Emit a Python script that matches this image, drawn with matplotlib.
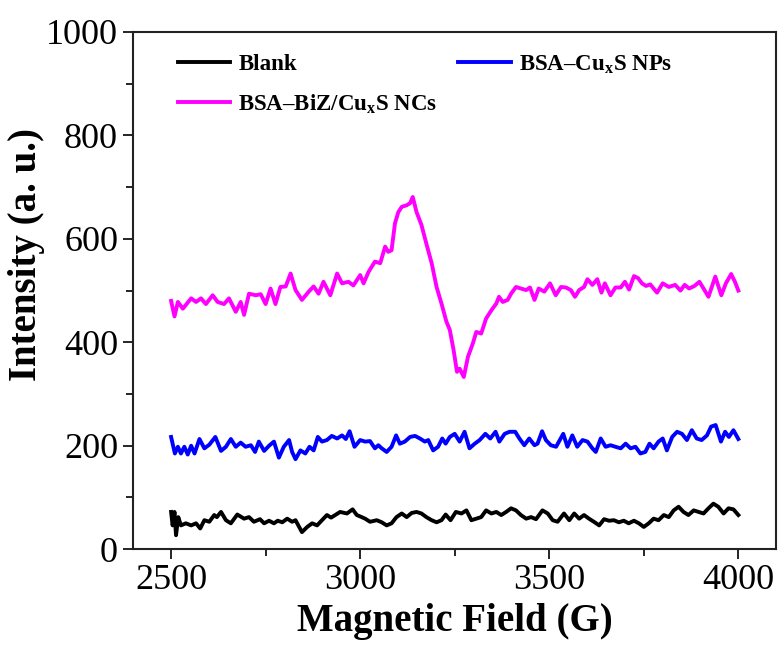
import matplotlib
matplotlib.use("Agg")
import matplotlib.pyplot as plt
from matplotlib.ticker import MultipleLocator

plt.rcParams['font.family'] = ['Liberation Serif', 'DejaVu Serif']
plt.rcParams['mathtext.fontset'] = 'custom'
plt.rcParams['mathtext.rm'] = 'Liberation Serif'
plt.rcParams['mathtext.bf'] = 'Liberation Serif:bold'

# Magnetic field (G) / intensity (a. u.)
field_ncs = [2500, 2509, 2518, 2531, 2553, 2566, 2579, 2592, 2610, 2623, 2640, 2653,
             2671, 2684, 2693, 2706, 2724, 2737, 2750, 2763, 2776, 2789, 2803, 2816,
             2829, 2846, 2864, 2877, 2890, 2903, 2921, 2939, 2952, 2969, 2982, 3000,
             3009, 3022, 3039, 3053, 3066, 3074, 3083, 3092, 3101, 3110, 3123, 3132,
             3139, 3149, 3162, 3176, 3189, 3202, 3215, 3228, 3237, 3247, 3256, 3263,
             3274, 3285, 3298, 3307, 3320, 3333, 3347, 3360, 3367, 3377, 3390, 3399,
             3412, 3425, 3439, 3449, 3461, 3472, 3487, 3502, 3517, 3531, 3544, 3557,
             3568, 3579, 3592, 3601, 3614, 3627, 3638, 3647, 3662, 3675, 3689, 3700,
             3711, 3724, 3735, 3745, 3756, 3767, 3785, 3800, 3816, 3833, 3847, 3858,
             3870, 3884, 3897, 3908, 3921, 3939, 3955, 3967, 3981, 3991, 4000]
int_ncs = [480, 450, 478, 465, 485, 478, 485, 474, 491, 478, 474, 485,
           459, 478, 453, 494, 491, 493, 474, 504, 474, 507, 508, 533,
           501, 482, 498, 508, 494, 517, 491, 533, 514, 517, 510, 530,
           514, 536, 556, 553, 585, 575, 578, 630, 652, 662, 665, 669,
           681, 652, 627, 588, 553, 507, 475, 440, 424, 385, 343, 349,
           333, 372, 398, 420, 417, 446, 462, 475, 488, 478, 482, 494,
           507, 504, 501, 506, 482, 504, 498, 514, 491, 507, 506, 501,
           488, 501, 507, 522, 511, 522, 496, 514, 491, 506, 506, 517,
           502, 528, 524, 514, 509, 512, 496, 514, 507, 511, 500, 511,
           504, 509, 517, 504, 488, 527, 491, 514, 532, 517, 500]

field_nps = [2500, 2510, 2518, 2526, 2535, 2544, 2553, 2562, 2575, 2588, 2601, 2617,
             2632, 2645, 2658, 2671, 2684, 2697, 2711, 2722, 2732, 2746, 2759, 2772,
             2785, 2798, 2812, 2820, 2829, 2842, 2855, 2866, 2877, 2888, 2899, 2912,
             2925, 2939, 2952, 2962, 2972, 2985, 3000, 3013, 3026, 3039, 3048, 3057,
             3070, 3083, 3095, 3105, 3118, 3132, 3145, 3158, 3171, 3180, 3193, 3206,
             3217, 3226, 3237, 3250, 3263, 3276, 3289, 3303, 3316, 3331, 3344, 3358,
             3368, 3382, 3395, 3410, 3421, 3434, 3447, 3461, 3469, 3481, 3491, 3504,
             3518, 3537, 3548, 3561, 3574, 3588, 3601, 3614, 3623, 3636, 3649, 3662,
             3675, 3689, 3702, 3715, 3728, 3741, 3754, 3765, 3776, 3789, 3800, 3811,
             3825, 3838, 3851, 3864, 3877, 3890, 3903, 3917, 3928, 3940, 3954, 3965,
             3975, 3987, 4000]
int_nps = [217, 185, 198, 185, 198, 183, 200, 185, 213, 195, 202, 217,
           190, 198, 213, 198, 206, 198, 201, 188, 208, 190, 200, 208,
           177, 198, 211, 188, 174, 191, 185, 198, 191, 217, 208, 211,
           219, 214, 220, 213, 228, 198, 211, 208, 209, 195, 201, 195,
           188, 198, 220, 204, 208, 217, 219, 214, 208, 211, 191, 198,
           214, 204, 217, 223, 208, 227, 195, 204, 211, 223, 214, 227,
           208, 223, 227, 227, 214, 201, 214, 201, 204, 228, 211, 201,
           198, 223, 198, 220, 198, 211, 208, 195, 188, 214, 198, 201,
           198, 195, 204, 195, 198, 185, 188, 204, 195, 208, 214, 191,
           217, 227, 223, 211, 230, 214, 211, 220, 237, 240, 208, 227,
           217, 230, 213]

field_blank = [2500, 2504, 2509, 2513, 2519, 2526, 2539, 2553, 2566, 2577, 2588, 2601,
               2614, 2621, 2632, 2645, 2658, 2675, 2693, 2706, 2719, 2735, 2746, 2759,
               2772, 2782, 2794, 2807, 2820, 2829, 2846, 2860, 2873, 2886, 2899, 2912,
               2923, 2934, 2947, 2965, 2980, 2991, 3004, 3013, 3026, 3044, 3057, 3070,
               3083, 3096, 3110, 3123, 3136, 3149, 3162, 3175, 3189, 3202, 3215, 3226,
               3239, 3253, 3268, 3281, 3294, 3307, 3320, 3333, 3347, 3360, 3373, 3386,
               3399, 3412, 3425, 3439, 3452, 3465, 3482, 3496, 3509, 3522, 3539, 3553,
               3566, 3579, 3592, 3605, 3618, 3632, 3645, 3658, 3671, 3684, 3697, 3710,
               3724, 3737, 3750, 3763, 3776, 3789, 3803, 3816, 3829, 3842, 3855, 3868,
               3882, 3895, 3908, 3921, 3934, 3947, 3961, 3974, 3987, 4000]
int_blank = [72, 46, 72, 27, 62, 46, 50, 46, 50, 40, 56, 53,
             66, 62, 72, 56, 50, 67, 59, 62, 53, 58, 50, 55,
             50, 55, 52, 59, 53, 56, 33, 43, 50, 46, 56, 66,
             61, 66, 72, 69, 77, 66, 62, 59, 53, 56, 52, 46,
             50, 62, 69, 62, 70, 72, 69, 62, 56, 52, 56, 67,
             56, 72, 69, 75, 56, 59, 62, 75, 69, 72, 66, 72,
             79, 75, 66, 59, 62, 58, 75, 69, 56, 53, 69, 56,
             69, 59, 66, 59, 53, 46, 58, 55, 56, 52, 55, 50,
             55, 50, 43, 50, 59, 56, 66, 62, 75, 82, 72, 66,
             75, 72, 69, 79, 88, 82, 69, 79, 77, 66]

fig = plt.figure(figsize=(7.84, 6.53), dpi=100)
ax = fig.add_axes([0.17, 0.159, 0.82, 0.792])

ax.plot(field_blank, int_blank, color='black', lw=2.8, label='Blank')
ax.plot(field_ncs, int_ncs, color='#ff00ff', lw=2.8, label='BSA\u2013BiZ/Cu$_\\mathbf{x}$S NCs')
ax.plot(field_nps, int_nps, color='#0000ff', lw=2.8, label='BSA\u2013Cu$_\\mathbf{x}$S NPs')

ax.set_xlim(2400, 4100)
ax.set_ylim(0, 1000)
ax.xaxis.set_major_locator(MultipleLocator(500))
ax.xaxis.set_minor_locator(MultipleLocator(250))
ax.yaxis.set_major_locator(MultipleLocator(200))
ax.yaxis.set_minor_locator(MultipleLocator(100))
ax.tick_params(which='major', direction='out', length=7, width=1.2, labelsize=26, pad=4)
ax.tick_params(which='minor', direction='out', length=5, width=1.2)
for s in ax.spines.values():
    s.set_linewidth(1.5)
    s.set_color('#222222')

ax.set_xlabel('Magnetic Field (G)', fontsize=28, fontweight='bold', labelpad=4)
ax.set_ylabel('Intensity (a. u.)', fontsize=28, fontweight='bold')
ax.yaxis.set_label_coords(-0.137, 0.57)

ax.legend(loc='upper left', bbox_to_anchor=(0.037, 1.0), ncol=2, frameon=False,
          prop={'weight': 'bold', 'size': 16.5}, handlelength=2.3, columnspacing=0.9,
          labelspacing=0.75, handletextpad=0.35)

fig.savefig('out.png', dpi=100)
